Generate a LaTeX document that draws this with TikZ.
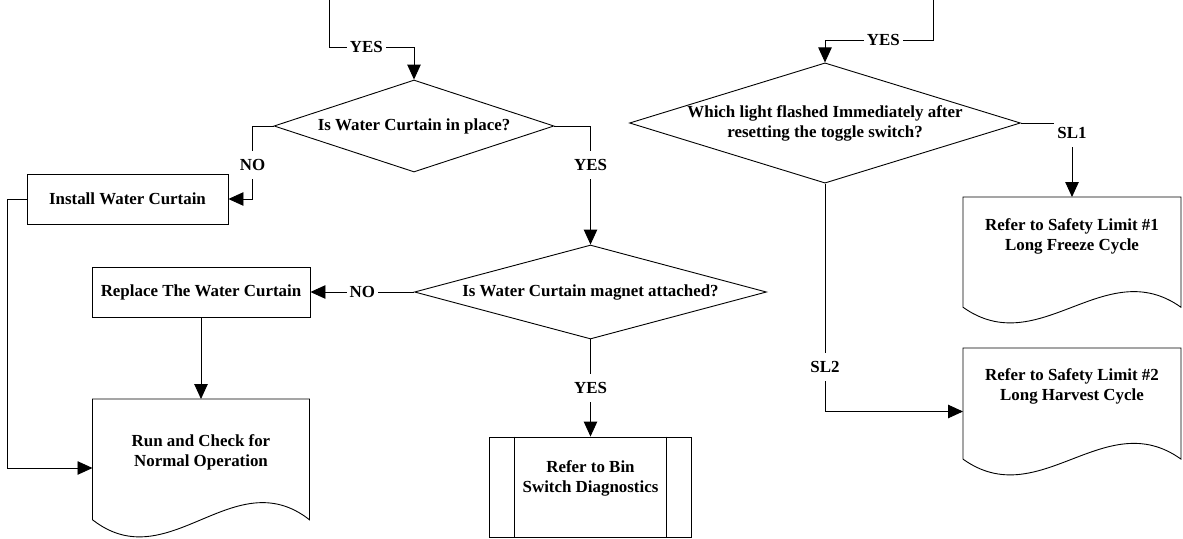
\documentclass[tikz,border=0pt]{standalone}
\usepackage{fontspec}
\setmainfont{Liberation Serif}
\usetikzlibrary{shapes.geometric,arrows.meta,calc}
\newcommand{\flowfont}{\fontsize{16.9}{20}\selectfont\bfseries}
\tikzset{
  plain/.style={line width=0.9pt},
  conn/.style={line width=0.9pt, -{Triangle[length=15pt,width=13.5pt]}},
  lbl/.style={fill=white, font=\flowfont, inner xsep=3pt, inner ysep=8pt},
  txt/.style={font=\flowfont, align=center, inner sep=0pt},
  procbox/.style={draw, line width=0.9pt, font=\flowfont, align=center, inner sep=0pt},
  decision/.style={draw, diamond, line width=0.9pt, font=\flowfont, align=center, inner sep=0pt},
  docbox/.style={draw=none, inner sep=0pt, outer sep=0pt},
}
\newcommand{\docoutline}[1]{%
  \draw[plain] let \p1=(#1.north west), \p2=(#1.south east) in
    (\x1,\y1) -- (\x2,\y1) -- (\x2,{\y1-0.875*(\y1-\y2)})
    .. controls ({\x2-0.35*(\x2-\x1)},{\y1-0.445*(\y1-\y2)})
            and ({\x1+0.35*(\x2-\x1)},{\y1-1.305*(\y1-\y2)})
    .. (\x1,{\y1-0.875*(\y1-\y2)}) -- cycle;}
\begin{document}
\begin{tikzpicture}[x=1pt,y=-1pt]
\useasboundingbox (0,0) rectangle (1183,538);

% process boxes
\node[procbox, minimum width=201pt, minimum height=50pt] (inst) at (127.5,199) {Install Water Curtain};
\node[procbox, minimum width=218pt, minimum height=50pt] (rep) at (201,292) {Replace The Water Curtain};

% decisions
\node[decision, minimum width=280pt, minimum height=92pt, aspect=3.04] (d1) at (414,126) {Is Water Curtain in place?};
\node[decision, minimum width=352pt, minimum height=94pt, aspect=3.74] (d2) at (590.5,292) {Is Water Curtain magnet attached?};
\node[decision, minimum width=390pt, minimum height=120pt, aspect=3.25] (d3) at (825,123) {Which light flashed Immediately after\\resetting the toggle switch?};

% documents
\node[docbox, minimum width=217pt, minimum height=138pt] (run) at (201,468) {};
\docoutline{run}
\node[txt] (runtxt) at (201,452) {Run and Check for\\Normal Operation};

\node[docbox, minimum width=218pt, minimum height=126pt] (s1) at (1072,260) {};
\docoutline{s1}
\node[txt] (s1txt) at (1072,236) {Refer to Safety Limit \#1\\Long Freeze Cycle};

\node[docbox, minimum width=218pt, minimum height=127pt] (s2) at (1072,411.5) {};
\docoutline{s2}
\node[txt] (s2txt) at (1072,386) {Refer to Safety Limit \#2\\Long Harvest Cycle};

% predefined process
\node[procbox, minimum width=202pt, minimum height=100pt] (bin) at (590.5,487) {};
\draw[plain] ([xshift=25.5pt]bin.north west) -- ([xshift=25.5pt]bin.south west);
\draw[plain] ([xshift=-25.5pt]bin.north east) -- ([xshift=-25.5pt]bin.south east);
\node[txt] (bintxt) at (590.5,478) {Refer to Bin\\Switch Diagnostics};

% connectors
\coordinate (topL) at (329,0);
\coordinate (topR) at (933,0);
\draw[conn] (topL) -- ++(0,47) -| node[lbl,pos=0.22] (yes1) {YES} (d1.north);
\draw[conn] (topR) -- ++(0,40) -| node[lbl,pos=0.23] (yes3) {YES} (d3.north);
\draw[conn] (d1.east) -| node[lbl,pos=0.664] (yes2) {YES} (d2.north);
\draw[conn] (d1.west) -- ++(-21,0) |- node[lbl,pos=0.267] (no1) {NO} (inst.east);
\draw[conn] (d2.west) -- node[lbl] (no2) {NO} (rep.east);
\draw[conn] (d2.south) -- node[lbl] (yes4) {YES} (bin.north);
\draw[conn] (d3.east) -| node[lbl,pos=0.568] (sl1) {SL1} (s1.north);
\draw[conn] (d3.south) |- node[lbl,pos=0.4026] (sl2) {SL2} (s2.west);
\draw[conn] (inst.west) -- ++(-19,0) |- (run.west);
\draw[conn] (rep.south) -- (run.north);
\end{tikzpicture}
\end{document}
